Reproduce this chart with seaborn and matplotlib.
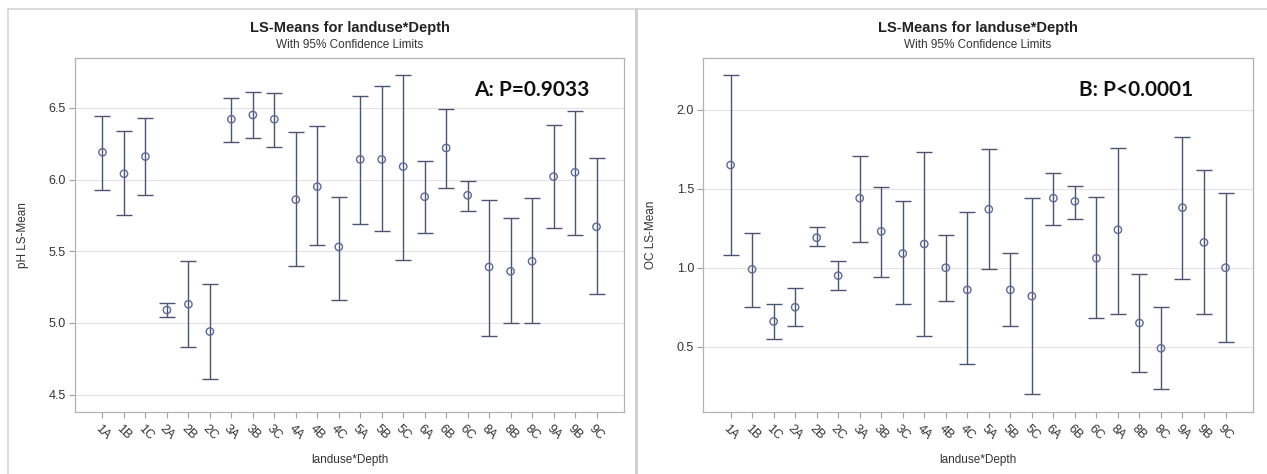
import matplotlib
matplotlib.use("Agg")
import matplotlib.pyplot as plt
from matplotlib.lines import Line2D
import numpy as np
import pandas as pd
import seaborn as sns

# landuse*Depth combinations
CATEGORIES = ['1A', '1B', '1C', '2A', '2B', '2C', '3A', '3B', '3C', '4A', '4B', '4C',
              '5A', '5B', '5C', '6A', '6B', '6C', '8A', '8B', '8C', '9A', '9B', '9C']

# pH LS-means with 95% confidence limits
PH_MEAN = [6.19, 6.04, 6.16, 5.09, 5.13, 4.94, 6.42, 6.45, 6.42, 5.86, 5.95, 5.53,
           6.14, 6.14, 6.09, 5.88, 6.22, 5.89, 5.39, 5.36, 5.43, 6.02, 6.05, 5.67]
PH_LOWER = [5.93, 5.75, 5.89, 5.04, 4.83, 4.61, 6.26, 6.29, 6.23, 5.40, 5.54, 5.16,
            5.69, 5.64, 5.44, 5.63, 5.94, 5.78, 4.91, 5.00, 5.00, 5.66, 5.61, 5.20]
PH_UPPER = [6.44, 6.34, 6.43, 5.14, 5.43, 5.27, 6.57, 6.61, 6.60, 6.33, 6.37, 5.88,
            6.58, 6.65, 6.73, 6.13, 6.49, 5.99, 5.86, 5.73, 5.87, 6.38, 6.48, 6.15]

# OC LS-means with 95% confidence limits
OC_MEAN = [1.65, 0.99, 0.66, 0.75, 1.19, 0.95, 1.44, 1.23, 1.09, 1.15, 1.00, 0.86,
           1.37, 0.86, 0.82, 1.44, 1.42, 1.06, 1.24, 0.65, 0.49, 1.38, 1.16, 1.00]
OC_LOWER = [1.08, 0.75, 0.55, 0.63, 1.14, 0.86, 1.16, 0.94, 0.77, 0.57, 0.79, 0.39,
            0.99, 0.63, 0.20, 1.27, 1.31, 0.68, 0.71, 0.34, 0.23, 0.93, 0.71, 0.53]
OC_UPPER = [2.22, 1.22, 0.77, 0.87, 1.26, 1.04, 1.71, 1.51, 1.42, 1.73, 1.21, 1.35,
            1.75, 1.09, 1.44, 1.60, 1.52, 1.45, 1.76, 0.96, 0.75, 1.83, 1.62, 1.47]

PH_TICKS = [4.5, 5.0, 5.5, 6.0, 6.5]
OC_TICKS = [0.5, 1.0, 1.5, 2.0]

BAR_COLOR = '#4b5573'
MARK_COLOR = '#5d6998'
TEXT_COLOR = '#333333'

sns.set_theme(style="white")
plt.rcParams['font.family'] = ['Liberation Sans', 'DejaVu Sans']


def lsmeans_panel(ax, df, ylabel, ylim, yticks, note, note_x):
    lo = df['mean'] - df['lower']
    hi = df['upper'] - df['mean']
    ax.errorbar(df['cat'], df['mean'], yerr=[lo, hi], fmt='none',
                ecolor=BAR_COLOR, elinewidth=1.0, capsize=5.5, capthick=1.0, zorder=2)
    sns.scatterplot(data=df, x='cat', y='mean', ax=ax, marker='o', s=28,
                    facecolor='none', edgecolor=MARK_COLOR, linewidth=1.0, zorder=3)

    ax.set_xlim(-1.28, len(df) - 1 + 1.28)
    ax.set_ylim(*ylim)
    ax.set_yticks(yticks)
    ax.set_yticklabels([f"{t:.1f}" for t in yticks])
    ax.yaxis.grid(True, color='#e3e3e3', linewidth=0.8)
    ax.set_axisbelow(True)

    for sp in ax.spines.values():
        sp.set_color('#b3b3b3')
        sp.set_linewidth(0.9)

    ax.tick_params(axis='both', colors='#a0a0a0', labelcolor=TEXT_COLOR,
                   labelsize=9, length=4, width=0.8, direction='out')
    ax.tick_params(axis='y', left=True, pad=2.5)
    ax.tick_params(axis='x', bottom=True, pad=4)
    plt.setp(ax.get_xticklabels(), rotation=-45, ha='center', va='top')

    ax.set_xlabel('landuse*Depth', fontsize=8.5, color=TEXT_COLOR, labelpad=8)
    ax.set_ylabel(ylabel, fontsize=8.5, color=TEXT_COLOR, labelpad=14)

    ax.set_title('With 95% Confidence Limits', fontsize=8.5, color=TEXT_COLOR, pad=7)
    ax.text(0.5, 1.066, 'LS-Means for landuse*Depth', transform=ax.transAxes,
            ha='center', va='bottom', fontsize=10.5, fontweight='bold',
            color='#222222')

    ax.text(note_x, 0.91, note, transform=ax.transAxes, ha='right', va='center',
            fontsize=15, fontweight='bold', color='#111111', family=['Lato', 'DejaVu Sans'])


ph = pd.DataFrame({'cat': CATEGORIES, 'mean': PH_MEAN, 'lower': PH_LOWER, 'upper': PH_UPPER})
oc = pd.DataFrame({'cat': CATEGORIES, 'mean': OC_MEAN, 'lower': OC_LOWER, 'upper': OC_UPPER})

fig = plt.figure(figsize=(12.67, 4.74), dpi=100)
ax1 = fig.add_axes([0.0592, 0.1308, 0.4333, 0.7468])
ax2 = fig.add_axes([0.5549, 0.1308, 0.4341, 0.7468])

lsmeans_panel(ax1, ph, 'pH LS-Mean', (4.379, 6.847), PH_TICKS, 'A: P=0.9033', 0.938)
lsmeans_panel(ax2, oc, 'OC LS-Mean', (0.087, 2.327), OC_TICKS, 'B: P<0.0001', 0.891)

# panel frames
W, H = 1267, 474
fig.add_artist(Line2D([8 / W, 1.0], [1 - 8.5 / H, 1 - 8.5 / H], transform=fig.transFigure,
                      color='#d6d6d6', linewidth=1.2))
fig.add_artist(Line2D([8 / W, 8 / W], [0, 1 - 8.5 / H], transform=fig.transFigure,
                      color='#d6d6d6', linewidth=1.2))
fig.add_artist(Line2D([636 / W, 636 / W], [0, 1 - 8.5 / H], transform=fig.transFigure,
                      color='#cccccc', linewidth=2.0))

fig.savefig('out.png', dpi=100, facecolor='white')
